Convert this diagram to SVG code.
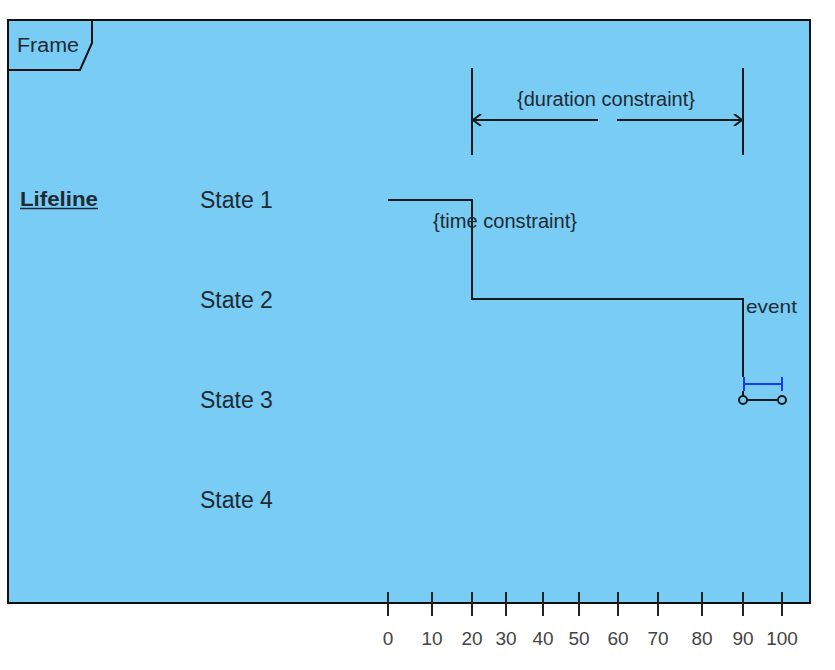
<svg xmlns="http://www.w3.org/2000/svg" width="835" height="670" viewBox="0 0 835 670">
<style>
text{font-family:"Liberation Sans",Arial,sans-serif;fill:#1e2a33}
.st{font-size:23px}
.cn{font-size:20px}
.num{font-size:19px;fill:#444;text-anchor:middle}
.ln{stroke:#1a1a1a;stroke-width:2;fill:none}
.tick{stroke:#222;stroke-width:2}
</style>
<defs>
<marker id="arrS" viewBox="0 0 10 12" refX="1" refY="6" markerWidth="10" markerHeight="12" markerUnits="userSpaceOnUse" orient="auto">
<path d="M9,0 L1,6 L9,12" fill="none" stroke="#1a1a1a" stroke-width="2"/>
</marker>
<marker id="arrE" viewBox="0 0 10 12" refX="9" refY="6" markerWidth="10" markerHeight="12" markerUnits="userSpaceOnUse" orient="auto">
<path d="M1,0 L9,6 L1,12" fill="none" stroke="#1a1a1a" stroke-width="2"/>
</marker>
</defs>
<g id="frame">
<rect x="8" y="20" width="802" height="583" fill="#79cdf4" stroke="#111" stroke-width="2"/>
<path d="M8,70 H80 L92,43 V20" fill="none" stroke="#111" stroke-width="2"/>
<text x="17" y="52" style="font-size:20px" textLength="62" lengthAdjust="spacingAndGlyphs">Frame</text>
</g>
<g id="lifeline">
<text x="20" y="206" style="font-size:20px;font-weight:bold" textLength="78" lengthAdjust="spacingAndGlyphs">Lifeline</text>
<line x1="20" y1="208.5" x2="98" y2="208.5" stroke="#1e2a33" stroke-width="1.5"/>
</g>
<g id="states">
<text class="st" x="200" y="208">State 1</text>
<text class="st" x="200" y="308">State 2</text>
<text class="st" x="200" y="408">State 3</text>
<text class="st" x="200" y="508">State 4</text>
</g>
<g id="timeline">
<path class="ln" d="M388,200 H472 V299 H743 V377"/>
</g>
<g id="duration-constraint">
<line class="ln" x1="472" y1="68" x2="472" y2="155"/>
<line class="ln" x1="743" y1="68" x2="743" y2="155"/>
<line class="ln" x1="473" y1="120" x2="598" y2="120" marker-start="url(#arrS)"/>
<line class="ln" x1="617" y1="120" x2="742" y2="120" marker-end="url(#arrE)"/>
<text class="cn" x="517" y="106" textLength="178" lengthAdjust="spacingAndGlyphs">{duration constraint}</text>
</g>
<g id="time-constraint">
<text class="cn" x="433" y="228" textLength="144" lengthAdjust="spacingAndGlyphs">{time constraint}</text>
</g>
<g id="event">
<text x="746" y="313" style="font-size:19px" textLength="51" lengthAdjust="spacingAndGlyphs">event</text>
</g>
<g id="duration-observation">
<path d="M744,377 V391 M744,384 H782 M782,377 V391" fill="none" stroke="#1a3cf0" stroke-width="2"/>
<line class="ln" x1="743" y1="391" x2="743" y2="396"/>
<line class="ln" x1="747" y1="400" x2="778" y2="400"/>
<circle cx="743" cy="400" r="4" fill="none" stroke="#1a1a1a" stroke-width="2"/>
<circle cx="782" cy="400" r="4" fill="none" stroke="#1a1a1a" stroke-width="2"/>
</g>
<g id="axis">
<line class="tick" x1="388" y1="592" x2="388" y2="616"/>
<line class="tick" x1="432" y1="592" x2="432" y2="616"/>
<line class="tick" x1="472" y1="592" x2="472" y2="616"/>
<line class="tick" x1="506" y1="592" x2="506" y2="616"/>
<line class="tick" x1="543" y1="592" x2="543" y2="616"/>
<line class="tick" x1="579" y1="592" x2="579" y2="616"/>
<line class="tick" x1="618" y1="592" x2="618" y2="616"/>
<line class="tick" x1="658" y1="592" x2="658" y2="616"/>
<line class="tick" x1="702" y1="592" x2="702" y2="616"/>
<line class="tick" x1="743" y1="592" x2="743" y2="616"/>
<line class="tick" x1="782" y1="592" x2="782" y2="616"/>
<text class="num" x="388" y="645">0</text>
<text class="num" x="432" y="645">10</text>
<text class="num" x="472" y="645">20</text>
<text class="num" x="506" y="645">30</text>
<text class="num" x="543" y="645">40</text>
<text class="num" x="579" y="645">50</text>
<text class="num" x="618" y="645">60</text>
<text class="num" x="658" y="645">70</text>
<text class="num" x="702" y="645">80</text>
<text class="num" x="743" y="645">90</text>
<text class="num" x="782" y="645">100</text>
</g>
</svg>
